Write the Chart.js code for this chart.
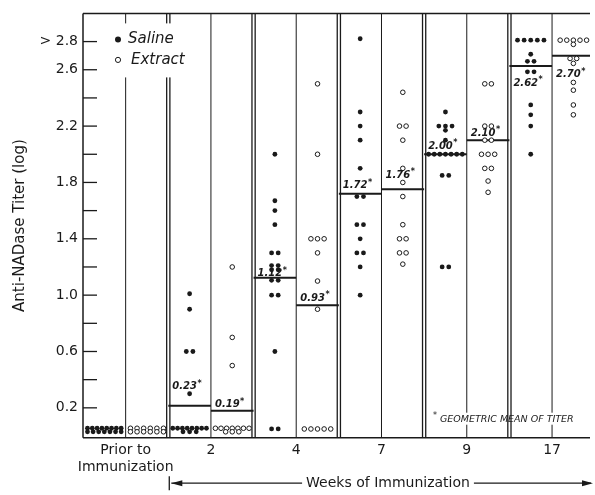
<!DOCTYPE html>
<html>
<head>
<meta charset="utf-8">
<script src="https://cdn.jsdelivr.net/npm/chart.js@4.4.1/dist/chart.umd.min.js"></script>
<style>
  html, body { margin: 0; padding: 0; background: #fff; }
</style>
</head>
<body>
<canvas id="titer-chart" width="595" height="495"></canvas>
<script>
// Anti-NADase titers (log) per animal: saline vs extract, by week of immunization
const weekLabels = [['Prior to', 'Immunization'], '2', '4', '7', '9', '17'];

const salineTiters = [
  [0.055, 0.055, 0.055, 0.055, 0.055, 0.055, 0.055, 0.055, 0.03, 0.03, 0.03, 0.03, 0.03, 0.03, 0.03],
  [1.01, 0.9, 0.6, 0.6, 0.3, 0.055, 0.055, 0.055, 0.055, 0.055, 0.055, 0.055, 0.055, 0.03, 0.03, 0.03],
  [2.0, 1.67, 1.6, 1.5, 1.3, 1.3, 1.21, 1.21, 1.18, 1.18, 1.105, 1.105, 1.0, 1.0, 0.6, 0.05, 0.05],
  [2.82, 2.3, 2.2, 2.1, 1.9, 1.7, 1.7, 1.5, 1.5, 1.4, 1.3, 1.3, 1.2, 1.0],
  [2.3, 2.2, 2.2, 2.2, 2.17, 2.1, 2.0, 2.0, 2.0, 2.0, 2.0, 2.0, 2.0, 1.85, 1.85, 1.2, 1.2],
  [2.81, 2.81, 2.81, 2.81, 2.81, 2.71, 2.66, 2.66, 2.585, 2.585, 2.35, 2.28, 2.2, 2.0]
];

const extractTiters = [
  [0.055, 0.055, 0.055, 0.055, 0.055, 0.055, 0.03, 0.03, 0.03, 0.03, 0.03, 0.03],
  [1.2, 0.7, 0.5, 0.055, 0.055, 0.055, 0.055, 0.055, 0.055, 0.055, 0.03, 0.03, 0.03],
  [2.5, 2.0, 1.4, 1.4, 1.4, 1.3, 1.1, 0.9, 0.05, 0.05, 0.05, 0.05, 0.05],
  [2.44, 2.2, 2.2, 2.1, 1.9, 1.8, 1.7, 1.5, 1.4, 1.4, 1.3, 1.3, 1.22],
  [2.5, 2.5, 2.2, 2.2, 2.1, 2.1, 2.0, 2.0, 2.0, 1.9, 1.9, 1.81, 1.73],
  [2.81, 2.81, 2.81, 2.81, 2.81, 2.78, 2.68, 2.68, 2.645, 2.51, 2.455, 2.35, 2.28]
];

// geometric means (drawn level) and their printed values
const salineMeans = [null, 0.215, 1.123, 1.72, 2.0, 2.626];
const extractMeans = [null, 0.18, 0.928, 1.752, 2.1, 2.70];
const salineMeanText = [null, '0.23', '1.12', '1.72', '2.00', '2.62'];
const extractMeanText = [null, '0.19', '0.93', '1.76', '2.10', '2.70'];

const yTickValues = [0.2, 0.4, 0.6, 0.8, 1.0, 1.2, 1.4, 1.6, 1.8, 2.0, 2.2, 2.4, 2.6, 2.8];
const yTickLabels = ['0.2', '', '0.6', '', '1.0', '', '1.4', '', '1.8', '', '2.2', '', '2.6', '> 2.8'];
const xTickValues = [1, 3, 5, 7, 9, 11];

// label placement relative to each mean line (px)
const salineLabelDy = [0, -19, -4, -8, -8, 17];
const extractLabelDy = [0, -6, -7, -14, -7, 19];

const FONT = '"DejaVu Sans", sans-serif';
const INK = '#1a1a1a';

// side-by-side placement for animals sharing the same titer
function layoutColumn(values, col) {
  const counts = {};
  values.forEach(v => { counts[v] = (counts[v] || 0) + 1; });
  const seen = {};
  return values.map(v => {
    const n = counts[v];
    seen[v] = (seen[v] === undefined) ? 0 : seen[v] + 1;
    const step = Math.min(0.155, 0.79 / Math.max(n - 1, 1));
    return { x: col + 0.5 + (seen[v] - (n - 1) / 2) * step, y: v };
  });
}

function meanSegments(means, side) {
  const pts = [];
  means.forEach((m, w) => {
    if (m === null) return;
    const col = 2 * w + side;
    pts.push({ x: col, y: m }, { x: col + 1, y: m }, { x: col + 1, y: null });
  });
  return pts;
}

const salinePoints = salineTiters.flatMap((vals, w) => layoutColumn(vals, 2 * w));
const extractPoints = extractTiters.flatMap((vals, w) => layoutColumn(vals, 2 * w + 1));

function strokeLine(ctx, x1, y1, x2, y2) {
  ctx.beginPath();
  ctx.moveTo(x1, y1);
  ctx.lineTo(x2, y2);
  ctx.stroke();
}

const panelDecor = {
  id: 'panelDecor',
  beforeDatasetsDraw(chart) {
    const { ctx, chartArea: a, scales: { x, y } } = chart;
    ctx.save();
    ctx.strokeStyle = INK;

    // thin line between saline and extract columns
    ctx.lineWidth = 1;
    xTickValues.forEach(v => {
      const px = x.getPixelForValue(v);
      strokeLine(ctx, px, a.top, px, a.bottom);
    });

    // footnote background
    const fnX = a.left + 350, fnY = a.bottom - 19;
    ctx.fillStyle = '#fff';
    ctx.fillRect(fnX + 4, fnY - 6, 142, 12);

    // double lines between weeks
    ctx.lineWidth = 1.3;
    [2, 4, 6, 8, 10].forEach(v => {
      const px = x.getPixelForValue(v);
      strokeLine(ctx, px - 1.6, a.top, px - 1.6, a.bottom);
      strokeLine(ctx, px + 1.6, a.top, px + 1.6, a.bottom);
    });

    // frame
    ctx.lineWidth = 1.5;
    strokeLine(ctx, a.left, a.top, a.right, a.top);
    strokeLine(ctx, a.left, a.bottom, a.right, a.bottom);
    strokeLine(ctx, a.left, a.top, a.left, a.bottom);

    // inward ticks on the titer axis
    ctx.lineWidth = 1.3;
    yTickValues.forEach(v => {
      const py = y.getPixelForValue(v);
      strokeLine(ctx, a.left, py, a.left + 14, py);
    });

    // legend box
    ctx.fillStyle = '#fff';
    ctx.fillRect(a.left + 23, a.top + 10, 84, 54);
    ctx.fillStyle = INK;
    ctx.beginPath();
    ctx.arc(a.left + 35, a.top + 26, 3, 0, Math.PI * 2);
    ctx.fill();
    ctx.lineWidth = 1;
    ctx.beginPath();
    ctx.arc(a.left + 35, a.top + 46.5, 2.6, 0, Math.PI * 2);
    ctx.stroke();
    ctx.font = 'italic 15px ' + FONT;
    ctx.textBaseline = 'middle';
    ctx.textAlign = 'left';
    ctx.fillText('Saline', a.left + 45, a.top + 26);
    ctx.fillText('Extract', a.left + 48, a.top + 46.5);

    // footnote
    ctx.font = '8px ' + FONT;
    ctx.fillText('*', fnX, fnY - 3);
    ctx.font = 'italic 9.5px ' + FONT;
    ctx.fillText('GEOMETRIC MEAN OF TITER', fnX + 7, fnY + 1);
    ctx.restore();
  },
  afterDatasetsDraw(chart) {
    const { ctx, scales: { x, y } } = chart;
    ctx.save();
    ctx.fillStyle = INK;
    ctx.textBaseline = 'middle';
    ctx.textAlign = 'left';
    const drawLabel = (text, col, mean, dy) => {
      const px = x.getPixelForValue(col) + 4;
      const py = y.getPixelForValue(mean) + dy;
      ctx.font = 'italic bold 10px ' + FONT;
      ctx.fillText(text, px, py);
      const w = ctx.measureText(text).width;
      ctx.font = 'bold 8px ' + FONT;
      ctx.fillText('*', px + w + 0.5, py - 3);
    };
    salineMeans.forEach((m, w) => {
      if (m !== null) drawLabel(salineMeanText[w], 2 * w, m, salineLabelDy[w]);
    });
    extractMeans.forEach((m, w) => {
      if (m !== null) drawLabel(extractMeanText[w], 2 * w + 1, m, extractLabelDy[w]);
    });
    ctx.restore();
  },
  afterDraw(chart) {
    // "Weeks of Immunization" span arrow under the axis
    const { ctx, chartArea: a, scales: { x } } = chart;
    const ay = a.bottom + 45.5;
    const xl = x.getPixelForValue(2) + 1;
    const xr = chart.width - 2;
    const cx = 388;
    ctx.save();
    ctx.strokeStyle = INK;
    ctx.fillStyle = INK;
    ctx.lineWidth = 1.3;
    strokeLine(ctx, xl, ay - 7, xl, ay + 7);
    ctx.font = '14px ' + FONT;
    ctx.textAlign = 'center';
    ctx.textBaseline = 'middle';
    const label = 'Weeks of Immunization';
    const tw = ctx.measureText(label).width;
    ctx.fillText(label, cx, ay);
    strokeLine(ctx, xl + 2, ay, cx - tw / 2 - 4, ay);
    strokeLine(ctx, cx + tw / 2 + 4, ay, xr - 2, ay);
    ctx.beginPath();
    ctx.moveTo(xl + 2, ay);
    ctx.lineTo(xl + 13, ay - 3);
    ctx.lineTo(xl + 13, ay + 3);
    ctx.closePath();
    ctx.fill();
    ctx.beginPath();
    ctx.moveTo(xr, ay);
    ctx.lineTo(xr - 11, ay - 3);
    ctx.lineTo(xr - 11, ay + 3);
    ctx.closePath();
    ctx.fill();
    ctx.restore();
  }
};

new Chart(document.getElementById('titer-chart'), {
  type: 'scatter',
  data: {
    datasets: [
      {
        label: 'Saline',
        data: salinePoints,
        pointRadius: 2.4,
        pointBackgroundColor: INK,
        pointBorderWidth: 0
      },
      {
        label: 'Extract',
        data: extractPoints,
        pointRadius: 2.3,
        pointBackgroundColor: '#fff',
        pointBorderColor: INK,
        pointBorderWidth: 1
      },
      {
        label: 'Saline mean',
        data: meanSegments(salineMeans, 0),
        showLine: true,
        spanGaps: false,
        borderColor: INK,
        borderWidth: 2,
        pointRadius: 0
      },
      {
        label: 'Extract mean',
        data: meanSegments(extractMeans, 1),
        showLine: true,
        spanGaps: false,
        borderColor: INK,
        borderWidth: 2,
        pointRadius: 0
      }
    ]
  },
  options: {
    responsive: false,
    animation: false,
    layout: { padding: { top: 7.5, right: 0, left: 0, bottom: 0 } },
    plugins: {
      legend: { display: false },
      tooltip: { enabled: false }
    },
    scales: {
      x: {
        type: 'linear',
        min: 0,
        max: 11.89,
        grid: { display: false, drawTicks: false },
        border: { display: false },
        afterBuildTicks: scale => { scale.ticks = xTickValues.map(v => ({ value: v })); },
        afterFit: scale => { scale.height = 57.3; },
        ticks: {
          autoSkip: false,
          maxRotation: 0,
          padding: 4,
          color: INK,
          font: { family: FONT, size: 14 },
          callback: (value, index) => weekLabels[index]
        }
      },
      y: {
        min: -0.012,
        max: 3.0,
        grid: { display: false, drawTicks: false },
        border: { display: false },
        afterBuildTicks: scale => { scale.ticks = yTickValues.map(v => ({ value: v })); },
        afterFit: scale => { scale.width = 83; },
        ticks: {
          autoSkip: false,
          padding: 5,
          color: INK,
          font: { family: FONT, size: 14 },
          callback: (value, index) => yTickLabels[index]
        },
        title: {
          display: true,
          text: 'Anti-NADase Titer (log)',
          color: INK,
          padding: { top: 11, bottom: 0 },
          font: { family: FONT, size: 15 }
        }
      }
    }
  },
  plugins: [panelDecor]
});
</script>
</body>
</html>
